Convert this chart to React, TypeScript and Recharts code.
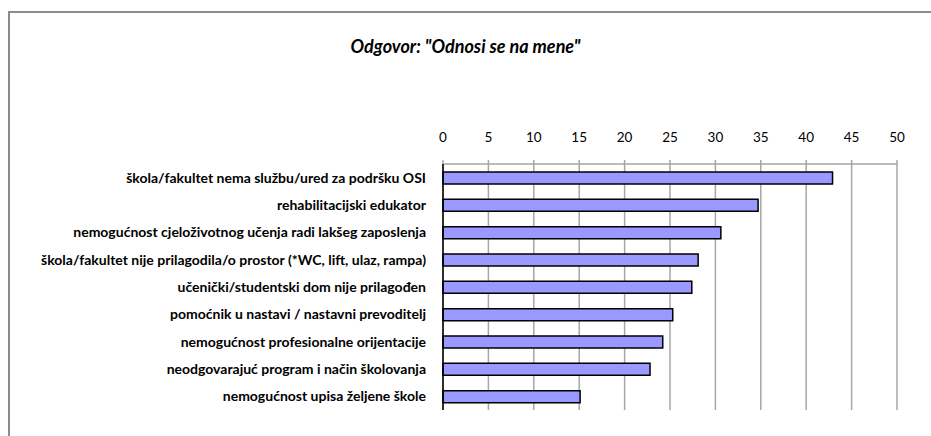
import { Bar, BarChart, CartesianGrid, XAxis, YAxis } from "recharts";

const categories = [
  "škola/fakultet nema službu/ured za podršku OSI",
  "rehabilitacijski edukator",
  "nemogućnost cjeloživotnog učenja radi lakšeg zaposlenja",
  "škola/fakultet nije prilagodila/o prostor (*WC, lift, ulaz, rampa)",
  "učenički/studentski dom nije prilagođen",
  "pomoćnik u nastavi / nastavni prevoditelj",
  "nemogućnost profesionalne orijentacije",
  "neodgovarajuć program i način školovanja",
  "nemogućnost upisa željene škole",
];

const values = [42.9, 34.7, 30.6, 28.1, 27.4, 25.3, 24.2, 22.8, 15.1];

const xTicks = [0, 5, 10, 15, 20, 25, 30, 35, 40, 45, 50];

const data = categories.map((name, i) => ({ name, value: values[i] }));

const font = "Lato, 'Open Sans', sans-serif";

export default function App() {
  return (
    <div
      style={{
        position: "fixed",
        left: 0,
        top: 0,
        width: 931,
        height: 436,
        overflow: "hidden",
        background: "#fff",
        fontFamily: font,
      }}
    >
      <div
        style={{
          position: "absolute",
          left: 8,
          top: 11,
          width: 1000,
          height: 500,
          border: "2px solid #8c8c8c",
        }}
      />
      <div
        style={{
          position: "absolute",
          left: 0,
          top: 35,
          width: 931,
          textAlign: "center",
          fontSize: 18,
          fontWeight: 700,
          fontStyle: "italic",
          color: "#000",
        }}
      >
        Odgovor: "Odnosi se na mene"
      </div>
      <div style={{ position: "absolute", left: 0, top: 0 }}>
        <BarChart
          width={931}
          height={436}
          data={data}
          layout="vertical"
          margin={{ top: 134, right: 34, bottom: 26, left: 0 }}
        >
          <CartesianGrid horizontal={false} stroke="#a6a6a6" strokeWidth={1.5} />
          <XAxis
            type="number"
            orientation="top"
            domain={[0, 50]}
            ticks={xTicks}
            interval={0}
            height={30}
            axisLine={{ stroke: "#a6a6a6", strokeWidth: 1.5 }}
            tickLine={{ stroke: "#a6a6a6", strokeWidth: 1.5 }}
            tickSize={4}
            tickMargin={18}
            tick={{ fill: "#000", fontSize: 13.5, fontFamily: font }}
          />
          <YAxis
            type="category"
            dataKey="name"
            width={443}
            interval={0}
            axisLine={{ stroke: "#000", strokeWidth: 1.5 }}
            tickLine={false}
            tickMargin={11}
            tick={{ fill: "#000", fontSize: 14, fontWeight: 700, fontFamily: font }}
          />
          <Bar
            dataKey="value"
            fill="#9999ff"
            stroke="#000"
            strokeWidth={1.5}
            barSize={12}
            isAnimationActive={false}
          />
        </BarChart>
      </div>
    </div>
  );
}
